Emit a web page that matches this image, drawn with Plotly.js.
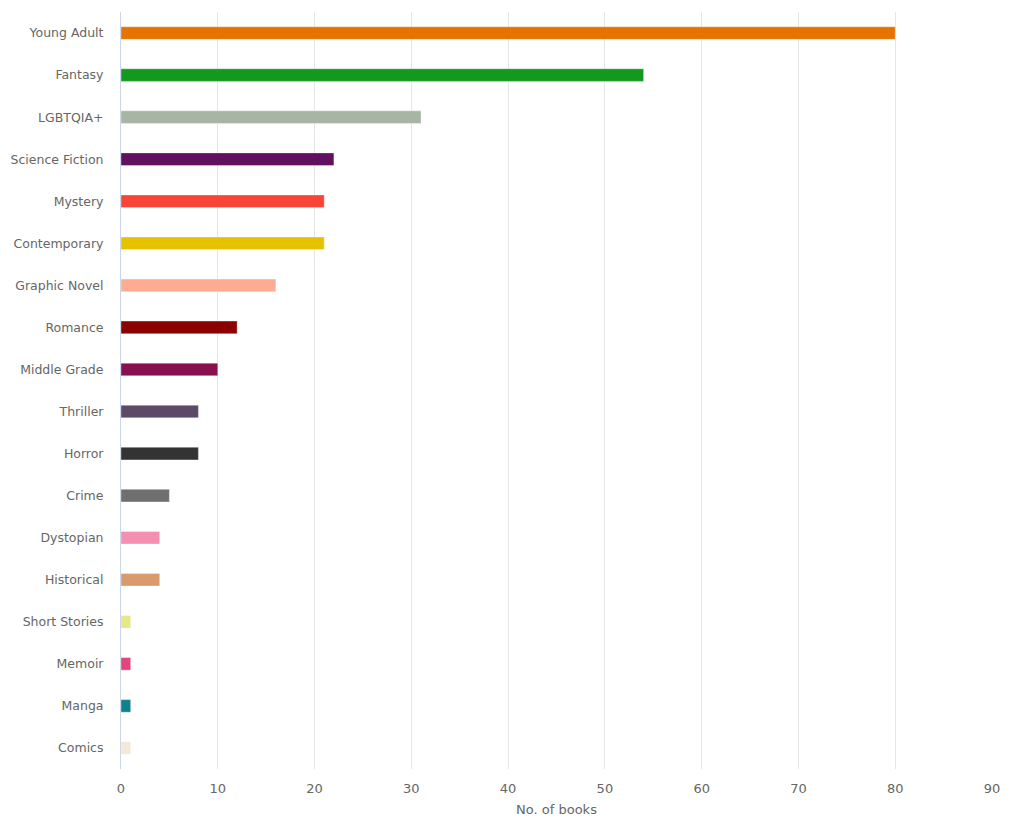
<!DOCTYPE html>
<html>
<head>
<meta charset="utf-8">
<script src="https://cdn.plot.ly/plotly-3.0.1.min.js"></script>
<style>html,body{margin:0;padding:0;background:#fff;}#chart{width:1023px;height:823px;}</style>
</head>
<body>
<div id="chart"></div>
<script>
const genres = ["Young Adult","Fantasy","LGBTQIA+","Science Fiction","Mystery","Contemporary","Graphic Novel","Romance","Middle Grade","Thriller","Horror","Crime","Dystopian","Historical","Short Stories","Memoir","Manga","Comics"];
const books = [80,54,31,22,21,21,16,12,10,8,8,5,4,4,1,1,1,1];
const colors = ["#E67300","#14991F","#A8B5A2","#621160","#F84537","#E6C100","#FFAB91","#8B0000","#88104E","#5E4A66","#333333","#6F6F6F","#F48FB1","#D99A6C","#E6E68A","#E0457B","#12808A","#F3E9D6"];
const xTitle = "No. of books";

const trace = {
  type: "bar",
  orientation: "h",
  y: genres,
  x: books,
  width: 0.3,
  marker: {color: colors, line: {color: "rgba(255,255,255,0.35)", width: 1}},
  hoverinfo: "x+y"
};

const layout = {
  width: 1023, height: 823,
  margin: {l: 121, r: 31, t: 12, b: 54},
  paper_bgcolor: "#fff", plot_bgcolor: "#fff",
  font: {family: "DejaVu Sans, sans-serif", size: 12.5, color: "#666666"},
  showlegend: false,
  bargap: 0,
  xaxis: {
    range: [0, 90], dtick: 10, tick0: 0,
    showgrid: true, gridcolor: "#e6e6e6", gridwidth: 1,
    zeroline: false, showline: false,
    ticks: "", ticklabelstandoff: 10,
    tickfont: {size: 13, color: "#666666"},
    title: {text: xTitle, font: {size: 13, color: "#666666"}, standoff: 9}
  },
  yaxis: {
    type: "category",
    categoryorder: "array", categoryarray: genres,
    autorange: "reversed",
    showgrid: false, zeroline: false,
    showline: true, linecolor: "#ccd6eb", linewidth: 1,
    ticks: "", ticklabelstandoff: 14,
    tickfont: {size: 12.5, color: "#666666"}
  }
};

Plotly.newPlot("chart", [trace], layout, {displayModeBar: false, staticPlot: true});
</script>
</body>
</html>
